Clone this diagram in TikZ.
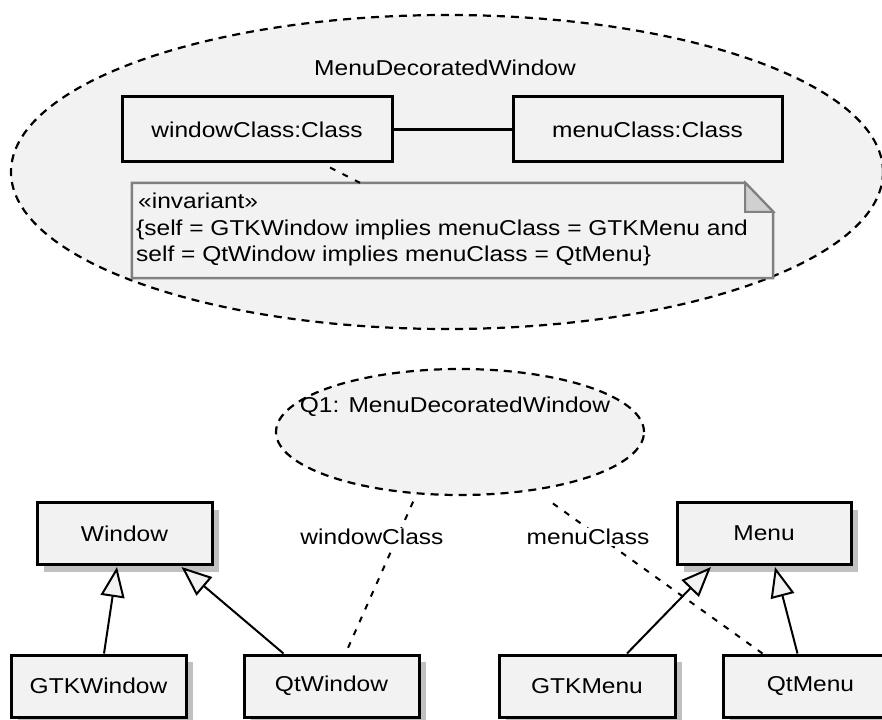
\documentclass[tikz,border=0pt]{standalone}
\usepackage{fontspec}
\setmainfont{Liberation Sans}[FakeStretch=1.14]
\usetikzlibrary{shapes.geometric,arrows.meta,shadows}
\definecolor{fillgray}{HTML}{F2F2F2}
\definecolor{notegray}{HTML}{808080}
\definecolor{foldgray}{HTML}{D0D0D0}
\definecolor{shadowgray}{HTML}{C0C0C0}
\begin{document}
\begin{tikzpicture}[x=1pt,y=-1pt,
  font=\fontsize{21.5}{25}\selectfont,
  dashell/.style={ellipse,draw=black,fill=fillgray,line width=2.2pt,dash pattern=on 8pt off 6pt,inner sep=0pt},
  partbox/.style={rectangle,draw=black,line width=3pt,fill=fillgray,minimum width=270pt,minimum height=65pt,inner sep=0pt},
  classbox/.style={rectangle,draw=black,line width=3pt,fill=fillgray,minimum width=175pt,minimum height=62pt,inner sep=0pt,
    drop shadow={shadow xshift=7pt,shadow yshift=-7pt,fill=shadowgray,opacity=1}},
  gen/.style={line width=2pt,-{Triangle[length=30pt,width=24pt,fill=fillgray,line width=2pt]}},
  dep/.style={line width=2pt,dash pattern=on 6pt off 8pt},
  lbl/.style={fill=white,inner sep=1pt}
]
\useasboundingbox (0,0) rectangle (882,719);
\fill[white] (0,0) rectangle (882,719);

% big ellipse
\node[dashell,minimum width=872pt,minimum height=314pt] (mdw) at (447,172) {};
\node (mdwtitle) at (445,68) {MenuDecoratedWindow};

\node[partbox] (wc) at (257,129.5) {windowClass:Class};
\node[partbox,minimum width=269pt] (mc) at (647.5,129.5) {menuClass:Class};
\draw[line width=2.5pt] (wc) -- (mc);

% note
\node[rectangle,minimum width=641pt,minimum height=95pt,inner sep=0pt] (note) at (452.5,230.5) {};
\coordinate (fa) at ([xshift=-28pt]note.north east);
\coordinate (fb) at ([yshift=-29pt]note.north east);
\draw[notegray,line width=2.5pt,fill=fillgray] (note.north west) -- (fa) -- (fb) -- (note.south east) -- (note.south west) -- cycle;
\draw[notegray,line width=2pt,fill=foldgray] (fa) -- (fa |- fb) -- (fb) -- cycle;
\node[anchor=west,inner sep=0pt] (n1) at (138,201) {«invariant»};
\node[anchor=west,inner sep=0pt] (n2) at (136,230) {\{self = GTKWindow implies menuClass = GTKMenu and};
\node[anchor=west,inner sep=0pt] (n3) at (136,256) {self = QtWindow implies menuClass = QtMenu\}};
\draw[dep] ([xshift=73pt,yshift=-4pt]wc.south) -- ([xshift=-92.5pt]note.north);

% small ellipse
\node[dashell,minimum width=368pt,minimum height=126pt] (q1) at (460,432) {};
\node (q1title) at (455,407) {Q1: MenuDecoratedWindow};

% classes
\node[classbox] (window) at (124.5,533.5) {Window};
\node[classbox,minimum width=174pt] (menu) at (764,533.5) {Menu};
\node[classbox] (gtkwindow) at (98.5,686) {GTKWindow};
\node[classbox] (qtwindow) at (331.5,686) {QtWindow};
\node[classbox,minimum width=176pt] (gtkmenu) at (587,686) {GTKMenu};
\node[classbox] (qtmenu) at (810.5,686) {QtMenu};

% generalizations
\draw[gen] ([xshift=5.5pt]gtkwindow.north) -- ([xshift=-7.5pt,yshift=-1pt]window.south);
\draw[gen] ([xshift=-48pt]qtwindow.north) -- ([xshift=57pt,yshift=-1pt]window.south);
\draw[gen] ([xshift=40pt]gtkmenu.north) -- ([xshift=-53pt,yshift=-1pt]menu.south);
\draw[gen] ([xshift=-13pt]qtmenu.north) -- ([xshift=11pt,yshift=-1pt]menu.south);

% role connectors
\draw[dep,shorten <=8pt] (q1.235) -- ([xshift=14pt]qtwindow.north);
\node[lbl] (wclbl) at (372,537) {windowClass};
\draw[dep,shorten <=22pt] (q1.322) -- ([xshift=-48pt]qtmenu.north);
\node[lbl] (mclbl) at (588,537) {menuClass};
\end{tikzpicture}
\end{document}
